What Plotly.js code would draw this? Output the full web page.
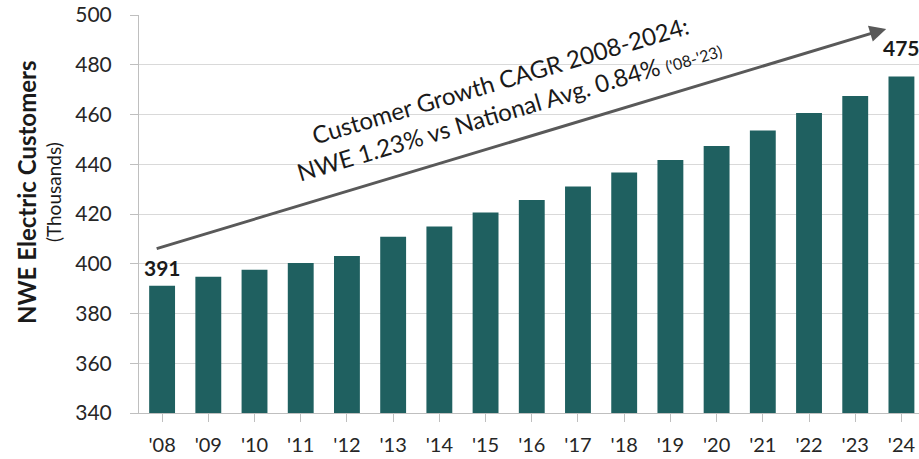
<!DOCTYPE html>
<html>
<head>
<meta charset="utf-8">
<script src="https://cdn.plot.ly/plotly-3.0.1.min.js"></script>
<style>
html,body{margin:0;padding:0;background:#fff;}
#chart{width:919px;height:459px;}
</style>
</head>
<body>
<div id="chart"></div>
<script>
// Data
const years = ["'08","'09","'10","'11","'12","'13","'14","'15","'16","'17","'18","'19","'20","'21","'22","'23","'24"];
const customers = [391.2, 394.8, 397.6, 400.3, 403.1, 410.9, 415.0, 420.6, 425.6, 431.1, 436.7, 441.7, 447.3, 453.6, 460.6, 467.4, 475.3];
const yTicks = [340, 360, 380, 400, 420, 440, 460, 480, 500];
const labeledIdx = [0, years.length - 1];
const labelShift = [4, 14];
const yTitle = "NWE Electric Customers";
const ySubTitle = "(Thousands)";
const noteLine1 = "Customer Growth CAGR 2008-2024:";
const noteLine2 = "NWE 1.23% vs National Avg. 0.84% <span style='font-size:16px'>('08-'23)</span>";
// arrow endpoints (category index, value)
const arrowTail = [-0.15, 405.9];
const arrowHead = [15.67, 494.4];

const FONT = "Lato, 'Open Sans', sans-serif";
const barColor = "#1f6060";

const trace = {
  type: 'bar',
  x: years.map((_, i) => i),
  y: customers,
  marker: {color: barColor, line: {width: 0}},
  width: 0.56,
  hoverinfo: 'skip'
};

const annotations = [];
labeledIdx.forEach((i, k) => {
  annotations.push({
    x: i, y: customers[i], xref: 'x', yref: 'y',
    text: '<b>' + Math.round(customers[i]) + '</b>',
    showarrow: false, yanchor: 'bottom', xanchor: 'center',
    yshift: labelShift[k],
    font: {family: FONT, size: 21, color: '#1a1a1a'}
  });
});
annotations.push({
  x: arrowHead[0], y: arrowHead[1], xref: 'x', yref: 'y',
  ax: arrowTail[0], ay: arrowTail[1], axref: 'x', ayref: 'y',
  text: '', showarrow: true, arrowhead: 2, arrowsize: 1.1, arrowwidth: 3,
  arrowcolor: '#595959', standoff: 0, startstandoff: 0
});
annotations.push({
  x: 7.4, y: 468, xref: 'x', yref: 'y',
  text: noteLine1 + '<br>' + noteLine2,
  showarrow: false, textangle: -16.5, align: 'center',
  font: {family: FONT, size: 24, color: '#1a1a1a'}
});
annotations.push({
  x: 0, y: 0.555, xref: 'paper', yref: 'paper', xshift: -113,
  text: '<b>' + yTitle + '</b>', showarrow: false, textangle: -90,
  xanchor: 'center', yanchor: 'middle',
  font: {family: FONT, size: 24, color: '#1a1a1a'}
});
annotations.push({
  x: 0, y: 0.555, xref: 'paper', yref: 'paper', xshift: -86,
  text: ySubTitle, showarrow: false, textangle: -90,
  xanchor: 'center', yanchor: 'middle',
  font: {family: FONT, size: 19, color: '#1a1a1a'}
});

const layout = {
  width: 919, height: 459,
  margin: {l: 139, r: 0, t: 15, b: 46},
  paper_bgcolor: '#fff', plot_bgcolor: '#fff',
  showlegend: false,
  font: {family: FONT, color: '#262626'},
  xaxis: {
    range: [-0.5, 16.38],
    tickmode: 'array', tickvals: years.map((_, i) => i), ticktext: years,
    tickson: 'boundaries', ticks: 'outside', ticklen: 8, tickcolor: '#bfbfbf', tickwidth: 1,
    showline: true, linecolor: '#bfbfbf', linewidth: 1,
    showgrid: false, zeroline: false,
    tickfont: {family: FONT, size: 20, color: '#262626'},
    ticklabelstandoff: 6
  },
  yaxis: {
    range: [340, 500],
    tickmode: 'array', tickvals: yTicks,
    ticks: 'outside', ticklen: 8, tickcolor: '#bfbfbf',
    showline: true, linecolor: '#bfbfbf', linewidth: 1,
    showgrid: true, gridcolor: '#d9d9d9', gridwidth: 1, zeroline: false,
    tickfont: {family: FONT, size: 21, color: '#262626'},
    ticklabelstandoff: 14
  },
  annotations: annotations
};

Plotly.newPlot('chart', [trace], layout, {displayModeBar: false, staticPlot: true});
</script>
</body>
</html>
